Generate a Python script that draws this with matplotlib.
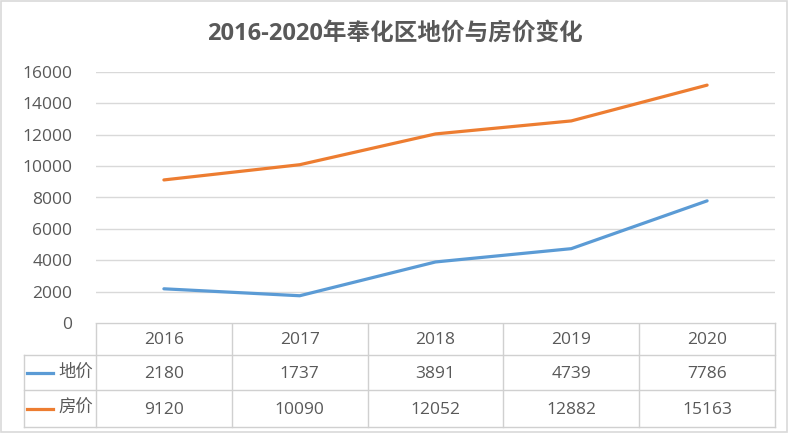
import matplotlib.pyplot as plt
from matplotlib.patches import Rectangle

plt.rcParams['font.family'] = ['Open Sans', 'Noto Sans CJK SC', 'DejaVu Sans']

# ---------------- data ----------------
years = ["2016", "2017", "2018", "2019", "2020"]
land_price = [2180, 1737, 3891, 4739, 7786]
house_price = [9120, 10090, 12052, 12882, 15163]
series_names = ["地价", "房价"]
yticks = [0, 2000, 4000, 6000, 8000, 10000, 12000, 14000, 16000]

# ---------------- style ----------------
W, H = 790, 434
text_col = "#595959"
grid_col = "#d9d9d9"
colors = ["#5b9bd5", "#ed7d31"]
fs = 12.5

fig = plt.figure(figsize=(W / 100, H / 100), dpi=100)

# plot area (pixel boundaries)
px_l, px_r, px_t, px_b = 96, 775, 72, 323
ax = fig.add_axes([px_l / W, 1 - px_b / H, (px_r - px_l) / W, (px_b - px_t) / H])
x = list(range(len(years)))
for vals, c in zip([land_price, house_price], colors):
    ax.plot(x, vals, color=c, lw=2.3, solid_capstyle="round", zorder=3)
ax.set_xlim(-0.5, len(years) - 0.5)
ax.set_ylim(0, 16000)
ax.set_yticks(yticks)
ax.set_yticklabels([str(v) for v in yticks], color=text_col, fontsize=fs)
ax.tick_params(axis="y", length=0, pad=17)
ax.set_xticks([])
ax.grid(axis="y", color=grid_col, lw=1)
for s in ax.spines.values():
    s.set_visible(False)

# ---------------- overlay: title, data table, border ----------------
ov = fig.add_axes([0, 0, 1, 1], zorder=-1)
ov.set_xlim(0, W)
ov.set_ylim(H, 0)
ov.axis("off")

ov.text(W / 2, 34, "2016-2020年奉化区地价与房价变化", ha="center", va="center",
        fontsize=17, fontweight="bold", color=text_col)

col_edges = [px_l + (px_r - px_l) * i / len(years) for i in range(len(years) + 1)]
row_edges = [323, 355, 390, 427]
first_x = 24
lc = "#d0d0d0"
# horizontal lines
ov.plot([px_l, px_r], [row_edges[0]] * 2, color=lc, lw=1)
for yy in row_edges[1:]:
    ov.plot([first_x, px_r], [yy] * 2, color=lc, lw=1)
# vertical lines
ov.plot([first_x, first_x], [row_edges[1], row_edges[3]], color=lc, lw=1)
for xx in col_edges:
    ov.plot([xx, xx], [row_edges[0], row_edges[3]], color=lc, lw=1)

centers_x = [(col_edges[i] + col_edges[i + 1]) / 2 for i in range(len(years))]
row_c = [(row_edges[i] + row_edges[i + 1]) / 2 for i in range(3)]
for cx, yr in zip(centers_x, years):
    ov.text(cx, row_c[0] + 1, yr, ha="center", va="center", fontsize=fs, color=text_col)
for r, (name, vals, c) in enumerate(zip(series_names, [land_price, house_price], colors)):
    cy = row_c[r + 1]
    ov.plot([27, 53], [cy, cy], color=c, lw=2.3)
    ov.text(93, cy, name, ha="right", va="center", fontsize=fs, color=text_col)
    for cx, v in zip(centers_x, vals):
        ov.text(cx, cy + 1, str(v), ha="center", va="center", fontsize=fs, color=text_col)

ov.add_patch(Rectangle((1, 1), W - 4, H - 3, fill=False, edgecolor="#d9d9d9", lw=1.2))

fig.savefig("out.png", dpi=100, facecolor="white")
